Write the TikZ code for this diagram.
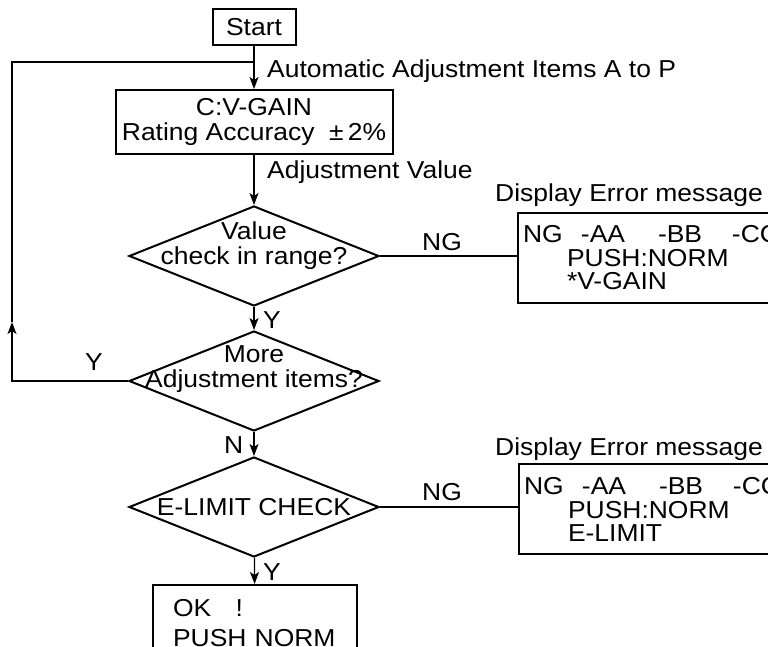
\documentclass[tikz,border=0pt]{standalone}
\usepackage{fontspec}
\setmainfont[FakeStretch=1.08]{Liberation Sans}
\usetikzlibrary{shapes.geometric,arrows.meta,positioning,calc}

\begin{document}
\begin{tikzpicture}[x=1pt, y=-1pt, >={Stealth[length=12pt,width=9pt,inset=3pt]},
    font=\fontsize{24.5}{25}\selectfont]
    \tikzset{
        stepbox/.style={draw, line width=2pt, rectangle, inner sep=0pt},
        decision/.style={draw, line width=2pt, diamond, minimum width=250pt, minimum height=100pt, inner sep=0pt},
        msgbox/.style={draw, line width=2pt, rectangle, anchor=north west, text width=290pt, inner xsep=5pt, inner ysep=0pt, minimum height=90pt, align=left},
        note/.style={inner sep=0pt, anchor=base west},
        link/.style={line width=1.2pt}
    }
    \path[use as bounding box, clip] (0,0) rectangle (768,646);

    % main column
    \node[stepbox, minimum width=83pt, minimum height=36pt] (start) at (254,27) {Start};
    \node[stepbox, minimum width=277pt, minimum height=64pt, align=center] (gain) at (254,122) {C:V-GAIN\\Rating Accuracy \ ±\,2\%};
    \node[decision, label={[align=center, yshift=10pt]center:{Value\\check in range?}}] (range) at (254,256) {};
    \node[decision, label={[align=center, yshift=12pt]center:{More\\Adjustment items?}}] (more) at (254,381) {};
    \node[decision, label={center:{E-LIMIT CHECK}}] (limit) at (254,507) {};
    \node[stepbox, anchor=north, minimum width=204pt, minimum height=100pt, text width=184pt, align=left, inner sep=0pt] (ok) at (255,584)
        {\raisebox{0pt}[0pt][0pt]{}\\[-32pt]\hspace*{10pt}OK\ \ \ !\\[5pt]\hspace*{10pt}PUSH NORM};

    % error displays
    \node[msgbox] (err1) at (517,212)
        {\makebox[58pt][l]{NG}\makebox[77pt][l]{-AA}\makebox[74pt][l]{-BB}-CC\\[-1pt]
         \hspace*{44pt}PUSH:NORM\\[-2pt]\hspace*{44pt}*V-GAIN};
    \node[msgbox] (err2) at (518,463)
        {\makebox[58pt][l]{NG}\makebox[77pt][l]{-AA}\makebox[74pt][l]{-BB}-CC\\[-1pt]
         \hspace*{44pt}PUSH:NORM\\[-2pt]\hspace*{44pt}E-LIMIT};
    \node[note] (disp1) at (495,201) {Display Error message};
    \node[note] (disp2) at (495,455) {Display Error message};

    % flow labels
    \node[note] (auto) at (267,77) {Automatic Adjustment Items A to P};
    \node[note] (value) at (267,178) {Adjustment Value};
    \node[note] (ng1) at (422,250) {NG};
    \node[note] (ng2) at (422,500) {NG};
    \node[note] (y1) at (263,328) {Y};
    \node[note] (yloop) at (85,370) {Y};
    \node[note] (n1) at (224,453) {N};
    \node[note] (y2) at (263,580) {Y};

    % connectors
    \coordinate (join) at (254,62);
    \coordinate (loopup) at (12,322);
    \draw[link, ->] (start) -- (gain);
    \draw[link, ->] (gain) -- (range);
    \draw[link] (range.east) -- (range.east -| err1.west);
    \draw[link, ->] (range) -- (more);
    \draw[link, ->] (more.west) -| (loopup);
    \draw[link] (loopup) |- (join);
    \draw[link, ->] (more) -- (limit);
    \draw[link] (limit.east) -- (limit.east -| err2.west);
    \draw[link, ->] (limit) -- (ok);
\end{tikzpicture}
\end{document}
